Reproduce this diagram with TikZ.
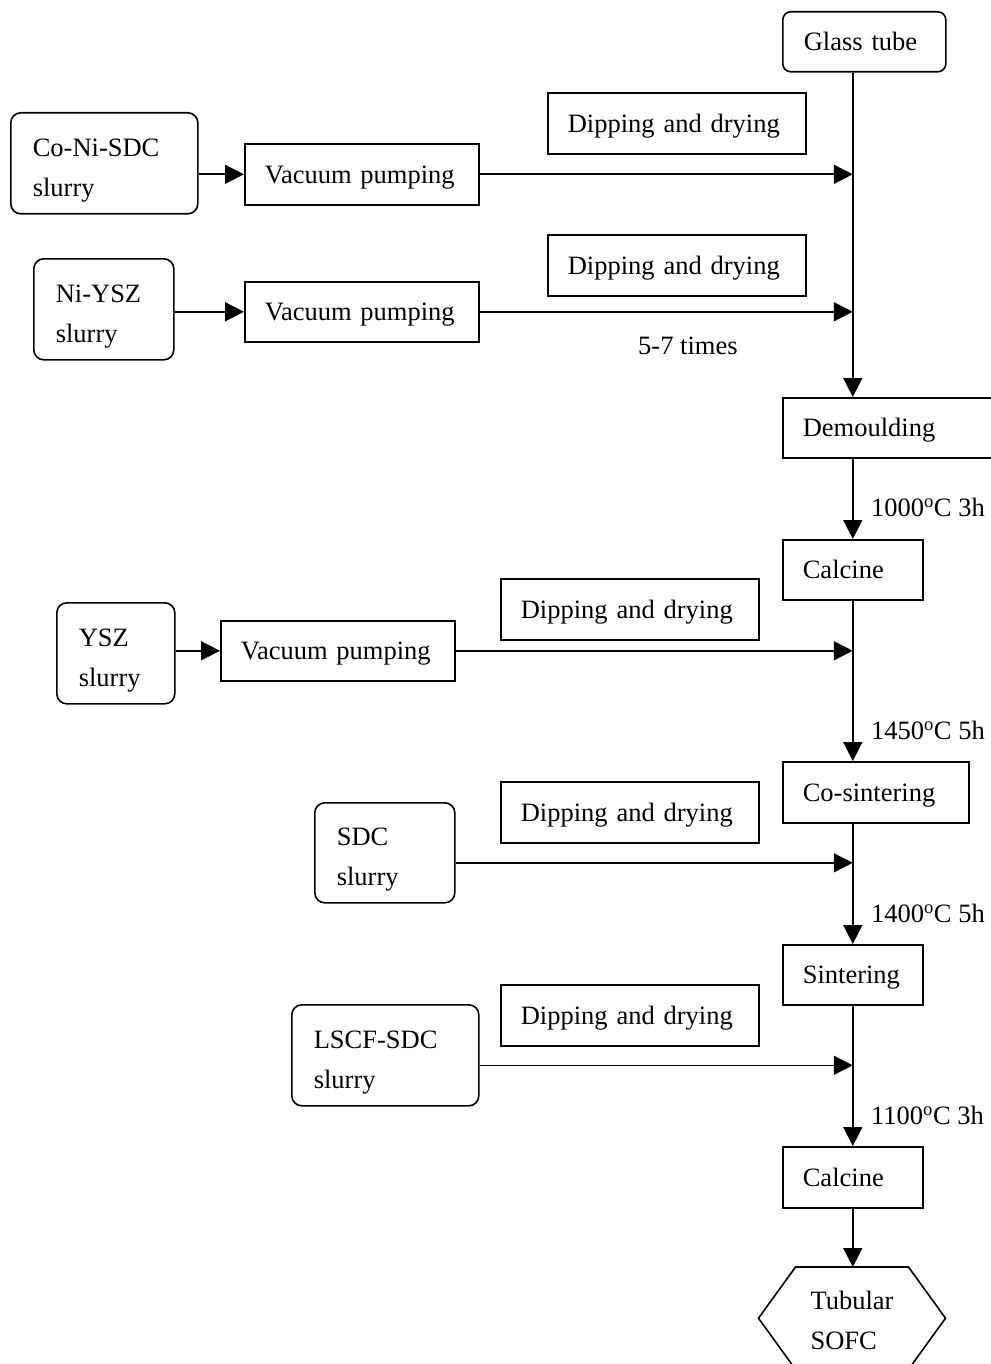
\documentclass[tikz,border=0pt]{standalone}
\usepackage{fontspec}
\setmainfont{Liberation Serif}
\usetikzlibrary{arrows.meta}
\begin{document}
\begin{tikzpicture}[x=1pt,y=-1pt,
  every node/.style={font=\fontsize{26.5}{40}\selectfont},
  box/.style={draw, line width=1.6pt, anchor=north west, inner xsep=20pt, inner ysep=0pt, align=left, text depth=0pt},
  gbox/.style={box, rounded corners=8pt, inner xsep=21pt},
  rbox/.style={box, rounded corners=10pt, inner xsep=22pt, text height=31pt, text depth=45.4pt},
  lbl/.style={anchor=west, inner sep=0pt},
  arr/.style={line width=1.6pt, -{Triangle[length=19pt,width=19pt]}},
  ln/.style={line width=1.6pt}]
\useasboundingbox (0,0) rectangle (990,1364);

\node[gbox, text width=121pt, minimum height=60pt] (glass) at (782,11) {Glass tube};
\node[box, text width=218pt, minimum height=61pt] (dip1) at (547,92) {Dipping and drying};
\node[rbox, text width=143pt, minimum height=101pt] (coni) at (10,112) {Co-Ni-SDC\\slurry};
\node[box, text width=194pt, minimum height=61pt] (vp1) at (244,143) {Vacuum pumping};
\node[box, text width=218pt, minimum height=61pt] (dip2) at (547,234) {Dipping and drying};
\node[rbox, text width=96pt, minimum height=101pt] (niysz) at (33,258) {Ni-YSZ\\slurry};
\node[box, text width=194pt, minimum height=60pt] (vp2) at (244,281) {Vacuum pumping};
\node[lbl] (times) at (638,346) {5-7 times};
\node[box, text width=180pt, minimum height=60pt] (demo) at (782,397) {Demoulding};
\node[lbl] (t1) at (871,507) {1000\textsuperscript{o}C 3h};
\node[box, text width=100pt, minimum height=60pt] (cal1) at (782,539) {Calcine};
\node[box, text width=218pt, minimum height=61pt] (dip3) at (500,578) {Dipping and drying};
\node[rbox, text width=74pt, minimum height=101pt] (ysz) at (56,602) {YSZ\\slurry};
\node[box, text width=194pt, minimum height=60pt] (vp3) at (220,620) {Vacuum pumping};
\node[lbl] (t2) at (871,730) {1450\textsuperscript{o}C 5h};
\node[box, text width=146pt, minimum height=61pt] (cos) at (782,761) {Co-sintering};
\node[box, text width=218pt, minimum height=61pt] (dip4) at (500,781) {Dipping and drying};
\node[rbox, text width=96pt, minimum height=100pt] (sdc) at (314,802) {SDC\\slurry};
\node[lbl] (t3) at (871,913) {1400\textsuperscript{o}C 5h};
\node[box, text width=100pt, minimum height=60pt] (sint) at (782,944) {Sintering};
\node[box, text width=218pt, minimum height=61pt] (dip5) at (500,984) {Dipping and drying};
\node[rbox, text width=143pt, minimum height=101pt] (lscf) at (291,1004) {LSCF-SDC\\slurry};
\node[lbl] (t4) at (871,1115) {1100\textsuperscript{o}C 3h};
\node[box, text width=100pt, minimum height=61pt] (cal2) at (782,1146) {Calcine};
\node[anchor=north, minimum height=102pt, inner sep=0pt, align=left, text height=62pt, text depth=0pt] (sofc) at (852,1267) {Tubular\\SOFC};
\draw[ln] ([xshift=-56.5pt]sofc.north) -- ([xshift=56.5pt]sofc.north) -- ([xshift=93.5pt]sofc.center)
  -- ([xshift=56.5pt]sofc.south) -- ([xshift=-56.5pt]sofc.south) -- ([xshift=-93.5pt]sofc.center) -- cycle;

% junctions on main line
\coordinate (j1) at (vp1.east -| cal1);
\coordinate (j2) at (vp2.east -| cal1);
\coordinate (j3) at (vp3.east -| cal1);
\coordinate (j4) at ([yshift=-10pt]sdc.east -| cal1);
\coordinate (j5) at ([yshift=-10pt]lscf.east -| cal1);

% main line
\draw[arr] (glass.south -| cal1) -- (demo.north -| cal1);
\draw[arr] (demo.south -| cal1) -- (cal1.north);
\draw[arr] (cal1.south) -- (cos.north -| cal1);
\draw[arr] (cos.south -| cal1) -- (sint.north);
\draw[arr] (sint.south) -- (cal2.north);
\draw[arr] (cal2.south) -- (cal2.south |- sofc.north);

% side feeds
\draw[arr] (coni.east |- vp1) -- (vp1.west);
\draw[arr] (vp1.east) -- (j1);
\draw[arr] (niysz.east |- vp2) -- (vp2.west);
\draw[arr] (vp2.east) -- (j2);
\draw[arr] (ysz.east |- vp3) -- (vp3.west);
\draw[arr] (vp3.east) -- (j3);
\draw[arr] (sdc.east |- j4) -- (j4);
\draw[arr] (lscf.east |- j5) -- (j5);
\end{tikzpicture}
\end{document}
